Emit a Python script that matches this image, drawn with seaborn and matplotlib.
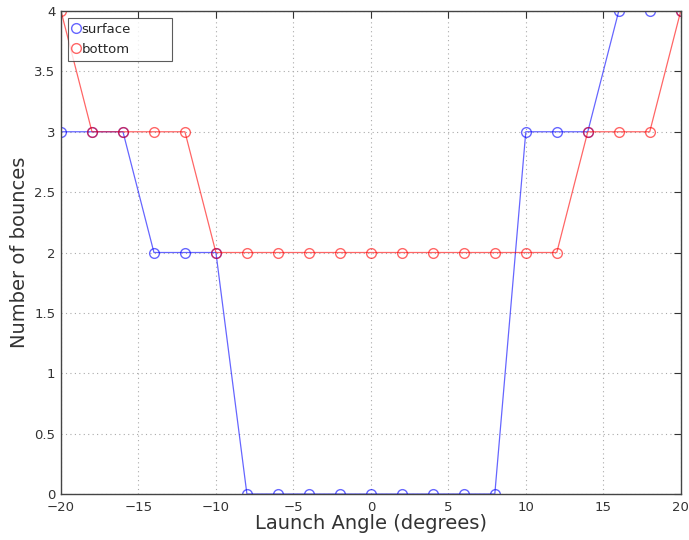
import numpy as np
import pandas as pd
import matplotlib
matplotlib.use("Agg")
import matplotlib.pyplot as plt
import seaborn as sns
from matplotlib.lines import Line2D

angles = [-20, -18, -16, -14, -12, -10, -8, -6, -4, -2, 0, 2, 4, 6, 8, 10, 12, 14, 16, 18, 20]
surface = [3, 3, 3, 2, 2, 2, 0, 0, 0, 0, 0, 0, 0, 0, 0, 3, 3, 3, 4, 4, 4]
bottom = [4, 3, 3, 3, 3, 2, 2, 2, 2, 2, 2, 2, 2, 2, 2, 2, 2, 3, 3, 3, 4]
series_names = ["surface", "bottom"]
xticks = [-20, -15, -10, -5, 0, 5, 10, 15, 20]
yticks = [0, 0.5, 1, 1.5, 2, 2.5, 3, 3.5, 4]

df = pd.DataFrame({
    "angle": angles * 2,
    "bounces": surface + bottom,
    "series": [series_names[0]] * len(angles) + [series_names[1]] * len(angles),
})

sns.set_style("white")
plt.rcParams['font.family'] = ['DejaVu Sans']

fig = plt.figure(figsize=(6.89, 5.4), dpi=100)
ax = fig.add_axes([0.0885, 0.0852, 0.8995, 0.8944])

palette = {"surface": "#0000ff", "bottom": "#ff0000"}
sns.lineplot(data=df, x="angle", y="bounces", hue="series", palette=palette,
             marker="o", markersize=7, markerfacecolor="none", markeredgewidth=1.0,
             linewidth=0.9, alpha=0.6, ax=ax, legend=False, estimator=None)
for line, name in zip(ax.get_lines(), series_names):
    line.set_markeredgecolor(palette[name])
    line.set_markerfacecolor("none")

ax.set_xlim(-20, 20)
ax.set_ylim(0, 4)
ax.set_xticks(xticks)
ax.set_yticks(yticks)
ax.set_xticklabels(["\u221220", "\u221215", "\u221210", "\u22125", "0", "5", "10", "15", "20"])
ax.set_yticklabels(["0", "0.5", "1", "1.5", "2", "2.5", "3", "3.5", "4"])
ax.tick_params(direction="in", top=True, right=True, length=5, labelsize=9.5, colors="#333333",
               width=0.8)
ax.tick_params(axis="x", pad=5)
ax.tick_params(axis="y", pad=4)
ax.grid(True, linestyle=(0, (1, 3)), color="#aaaaaa", linewidth=0.8)
for s in ax.spines.values():
    s.set_color("#444444")
    s.set_linewidth(1.0)
ax.set_xlabel("Launch Angle (degrees)", fontsize=14, color="#333333", labelpad=0)
ax.set_ylabel("Number of bounces", fontsize=14, color="#333333", labelpad=4)

handles = [Line2D([], [], marker="o", linestyle="none", markerfacecolor="none",
                  markeredgecolor=palette[n], markersize=7, alpha=0.6) for n in series_names]
leg = ax.legend(handles, series_names, loc="upper left",
                bbox_to_anchor=(0.011, 0.907, 0.168, 0.0785), mode="expand",
                fontsize=9.5, frameon=True, fancybox=False, handlelength=0.6, handletextpad=0.1,
                borderpad=0.35, labelspacing=0.55, borderaxespad=0.0)
leg.get_frame().set_edgecolor("#333333")
leg.get_frame().set_linewidth(0.8)

fig.savefig("out.png", dpi=100)
